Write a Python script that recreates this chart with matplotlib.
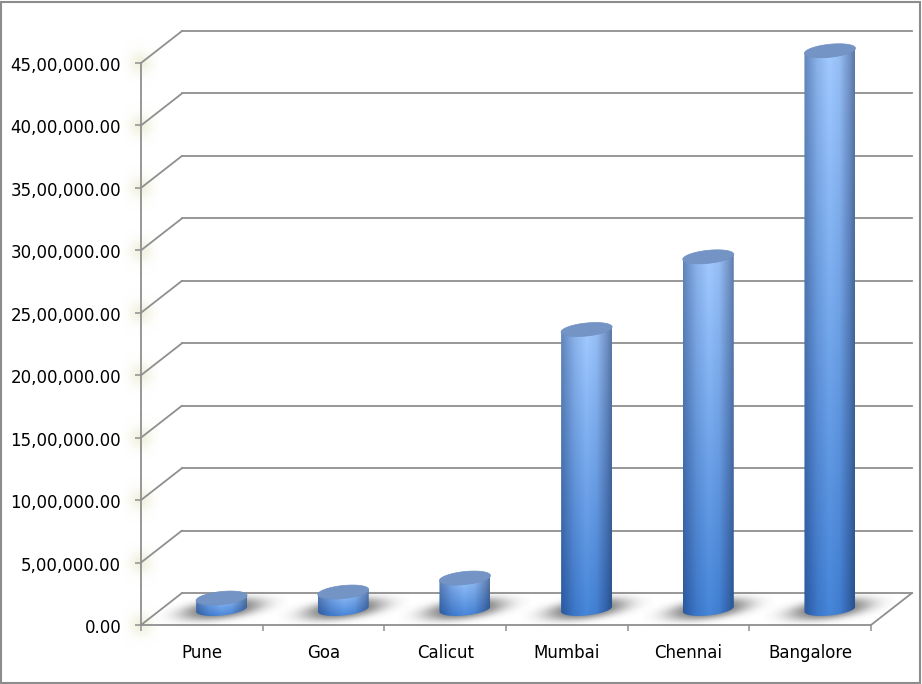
import numpy as np
import matplotlib
matplotlib.use('Agg')
import matplotlib.pyplot as plt
from matplotlib.patches import Polygon, Rectangle
from matplotlib.colors import LinearSegmentedColormap
from matplotlib.transforms import ScaledTranslation

cities = ['Pune', 'Goa', 'Calicut', 'Mumbai', 'Chennai', 'Bangalore']
sales = [88000, 136000, 248000, 2238000, 2820000, 4470000]
yticks = [0, 500000, 1000000, 1500000, 2000000, 2500000, 3000000, 3500000, 4000000, 4500000]
ylabels = ['0.00', '5,00,000.00', '10,00,000.00', '15,00,000.00', '20,00,000.00',
           '25,00,000.00', '30,00,000.00', '35,00,000.00', '40,00,000.00', '45,00,000.00']

W, H = 922, 684
grid_col = '#8f8f8f'

fig = plt.figure(figsize=(W / 100, H / 100), dpi=100)
# axes box is the front plane of the 3d chart
ax = fig.add_axes([141 / W, 1 - 625 / H, 730 / W, 562 / H])

# pixels to data units
px_x = 6 / 730
px_y = 4500000 / 562
depth_x = 41 * px_x
depth_y = 32 * px_y


def blob(cx, cy, rx, ry, shear, rgb, strength, power, zorder):
    # soft spot, cx/cy in data units, the rest in pixels
    n = 100
    u = np.linspace(-1.6, 1.6, n) * rx
    v = np.linspace(-2.2 * ry - abs(shear) * 1.6, 2.2 * ry + abs(shear) * 1.6, n)
    xx, yy = np.meshgrid(u, v)
    d = (xx / rx) ** 2 + ((yy - shear * xx / rx) / ry) ** 2
    img = np.zeros((n, n, 4))
    img[..., 0], img[..., 1], img[..., 2] = rgb
    img[..., 3] = strength * np.exp(-d ** power)
    im = ax.imshow(img, origin='lower', aspect='auto', interpolation='bilinear', zorder=zorder,
                   extent=[cx + u[0] * px_x, cx + u[-1] * px_x, cy + v[0] * px_y, cy + v[-1] * px_y])
    im.set_clip_on(False)


# glow behind the value ticks
for v in yticks:
    blob(0, v, 11, 11, 0, (0.91, 0.91, 0.80), 0.6, 1, 0.5)

# walls and floor lines
for v in yticks:
    ax.plot([0, depth_x], [v, v + depth_y], color=grid_col, lw=1.3, clip_on=False, zorder=1, solid_capstyle='round')
    ax.plot([depth_x, 6 + depth_x], [v + depth_y, v + depth_y], color=grid_col, lw=1.3, clip_on=False, zorder=1)
ax.plot([6, 6 + depth_x], [0, depth_y], color=grid_col, lw=1.3, clip_on=False, zorder=1)

blue_h = LinearSegmentedColormap.from_list('side', [(0, '#6286bb'), (0.25, '#8ab2ea'), (0.5, '#a2caff'),
                                                    (0.7, '#96bef5'), (0.9, '#7393c6'), (1, '#5b7aa6')])
t = np.linspace(0, 2 * np.pi, 120)
a, b, tilt = 25.5, 6.5, 2.5

for i, val in enumerate(sales):
    cx = i + 0.6625
    cy = 16 * px_y
    blob(cx, cy, 41, 10, 5, (0.36, 0.36, 0.36), 0.85, 1.5, 2)

    ell_x = a * np.cos(t) * px_x
    ell_y = (b * np.sin(t) + tilt * np.cos(t)) * px_y
    # side of the cylinder: lower half of the base, then straight up to the cap
    low = np.sin(t) <= 0
    low_x, low_y = ell_x[low], ell_y[low]
    order = np.argsort(low_x)
    low_x, low_y = low_x[order], low_y[order]
    side_x = np.r_[cx + low_x, cx + low_x[::-1]]
    side_y = np.r_[cy + low_y, cy + val + tilt * low_x[::-1] / (a * px_x) * px_y]

    # horizontal shading, darkened toward the bottom of the bar
    nx, ny = 64, 64
    shade = blue_h(np.linspace(0, 1, nx))[:, :3]
    mix = np.linspace(0, 1, ny)[:, None, None]
    bottom = shade * np.array([0.43, 0.66, 0.85])
    img = bottom * (1 - mix) + shade * mix
    im = ax.imshow(img, origin='lower', aspect='auto', interpolation='bilinear', zorder=3,
                   extent=[cx - a * px_x, cx + a * px_x, cy - 8 * px_y, cy + val + 3 * px_y])
    clip = Polygon(np.c_[side_x, side_y], closed=True, transform=ax.transData, fill=False, edgecolor='none')
    ax.add_patch(clip)
    clip.set_clip_on(False)
    im.set_clip_path(clip)
    im.set_clip_box(fig.bbox)

    ax.add_patch(Polygon(np.c_[cx + ell_x, cy + val + ell_y], closed=True, facecolor='#7494c6',
                         edgecolor='#7090c0', lw=0.5, zorder=4, clip_on=False))

ax.set_xlim(0, 6)
ax.set_ylim(0, 4500000)
ax.patch.set_visible(False)
for s in ['top', 'right']:
    ax.spines[s].set_visible(False)
for s in ['left', 'bottom']:
    ax.spines[s].set_color(grid_col)
    ax.spines[s].set_linewidth(1.3)
    ax.spines[s].set_zorder(1.5)

ax.set_yticks(yticks)
ax.set_yticklabels(ylabels, fontsize=12, color='black')
ax.set_xticks(np.arange(7))
ax.set_xticklabels([])
ax.set_xticks(np.arange(6) + 0.5, minor=True)
ax.set_xticklabels(cities, minor=True, fontsize=12, color='black')
ax.tick_params(axis='x', which='minor', length=0, pad=14)
ax.tick_params(axis='both', which='major', length=4.3, width=1.1, color=grid_col)
ax.tick_params(axis='y', which='major', pad=10)

# value labels sit a pixel under their ticks
nudge = ScaledTranslation(0, -1 / 100, fig.dpi_scale_trans)
for lab in ax.get_yticklabels():
    lab.set_transform(lab.get_transform() + nudge)

fig.add_artist(Rectangle((1 / W, 1 / H), 919 / W, 681.5 / H, transform=fig.transFigure, fill=False,
                         edgecolor='#8c8c8c', lw=1.5))

fig.savefig('out.png', dpi=100)
